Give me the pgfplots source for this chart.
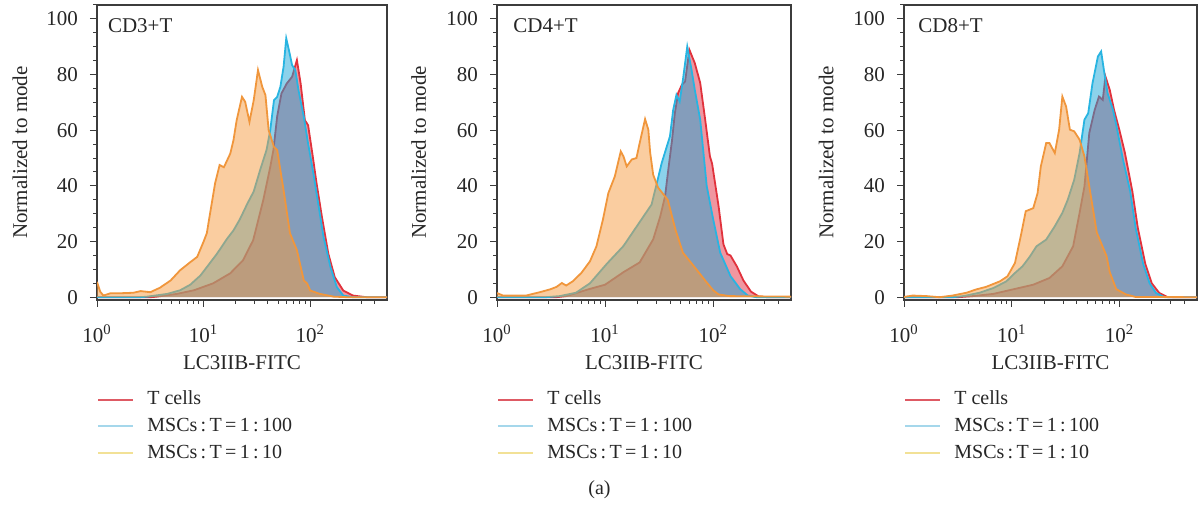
\documentclass[border=0pt]{standalone}
\usepackage{fontspec}
\setmainfont{Liberation Serif}
\usepackage{pgfplots}
\usepackage{pgfplotstable}
\pgfplotsset{compat=1.18}

\definecolor{rfill}{RGB}{225,45,65}
\definecolor{bfill}{RGB}{25,165,215}
\definecolor{ofill}{RGB}{245,155,65}
\definecolor{rline}{RGB}{225,50,60}
\definecolor{bline}{RGB}{40,180,225}
\definecolor{oline}{RGB}{240,150,60}
\definecolor{lgr}{RGB}{222,90,100}
\definecolor{lgb}{RGB}{165,215,235}
\definecolor{lgy}{RGB}{242,225,150}
\definecolor{axgray}{RGB}{60,60,60}

% ---------- Panel 1: CD3+T (x in log10 units) ----------
\pgfplotstableread{
lx y
0 0
0.5 0
0.56 0.2
0.75 1.2
0.91 2.5
1.09 5
1.25 8.6
1.37 13.3
1.465 20.5
1.56 35
1.625 46.8
1.655 53
1.69 65
1.73 73.2
1.78 76.8
1.83 79.2
1.875 85.2
1.91 76.8
1.95 63.6
1.98 61.8
2.02 51.6
2.06 40.8
2.11 28.8
2.17 15.6
2.23 7.2
2.31 2.4
2.4 0.6
2.53 0
2.72 0
}\rA
\pgfplotstableread{
lx y
0 0
0.4 0
0.47 0.2
0.66 1.2
0.78 2.5
0.875 4.5
0.97 7.8
1.03 10.8
1.125 15.6
1.22 21
1.28 24
1.34 28
1.41 33.6
1.47 38
1.53 45.7
1.59 52.9
1.625 60
1.66 70.8
1.69 72
1.72 75.6
1.75 82.8
1.775 93
1.80 88.8
1.83 83.4
1.86 81.6
1.89 74.4
1.94 64.8
1.98 55.2
2.03 44.4
2.08 32.4
2.125 21.6
2.19 10.8
2.25 3.6
2.31 0.6
2.4 0
2.72 0
}\bA
\pgfplotstableread{
lx y
0 5.5
0.03 2
0.06 0.6
0.125 1.4
0.2 1.4
0.34 1.6
0.41 2.2
0.5 1.8
0.59 3.4
0.69 6
0.78 9.7
0.875 12.6
0.94 14.5
1.0 20
1.03 23
1.06 30
1.108 41
1.15 47.5
1.19 46.7
1.25 51.6
1.28 56.4
1.31 63.6
1.36 72
1.39 70.2
1.43 63
1.47 70.8
1.51 81.6
1.55 75.6
1.58 72.6
1.61 60
1.66 54
1.69 52.9
1.75 38.5
1.81 23
1.875 16.9
1.94 6
1.97 5
2.0 2.4
2.09 1.2
2.22 0.2
2.35 0
2.72 0
}\oA

% ---------- Panel 2: CD4+T ----------
\pgfplotstableread{
lx y
0 0
0.55 0
0.64 0.4
0.86 3
1.0 4.5
1.17 9
1.32 12.5
1.445 20.8
1.51 29
1.555 36.3
1.585 45.9
1.62 56.6
1.645 66
1.675 73.3
1.71 76.3
1.74 77.5
1.78 88.9
1.83 84.1
1.88 77
1.926 63.8
1.97 50.6
1.99 48
2.05 32.7
2.095 19
2.13 15.5
2.16 15
2.22 11
2.28 6
2.35 2
2.42 0.3
2.5 0
2.72 0
}\rB
\pgfplotstableread{
lx y
0 0
0.45 0
0.58 0.4
0.73 1.6
0.86 5
1.016 12
1.17 18.4
1.32 27
1.43 33.3
1.48 41.2
1.525 48.4
1.60 57.8
1.63 67.3
1.66 72.7
1.69 70.3
1.72 78.1
1.76 90
1.80 81.7
1.83 74.5
1.88 63.8
1.94 40
2.0 28
2.065 16
2.16 7.6
2.25 2.9
2.32 0.6
2.4 0
2.72 0
}\bB
\pgfplotstableread{
lx y
0 1.5
0.055 0.6
0.27 0.6
0.395 1.8
0.49 2.8
0.55 3.7
0.6 5.1
0.64 4.2
0.70 5.7
0.78 8.7
0.86 12.9
0.92 18.3
0.98 27.9
1.03 37.4
1.09 43.4
1.145 52.4
1.17 50.6
1.20 47
1.247 49.5
1.29 50
1.32 55.4
1.37 64
1.40 60.2
1.417 52
1.445 44
1.49 39.4
1.58 35
1.65 24.4
1.72 16
1.82 11.2
1.94 5.3
2.0 2.5
2.05 1
2.15 0.4
2.72 0.2
}\oB

% ---------- Panel 3: CD8+T ----------
\pgfplotstableread{
lx y
0 0
0.5 0
0.64 0.4
0.83 1.2
1.01 2.8
1.2 4.5
1.35 6.9
1.47 11.1
1.57 18.3
1.63 30.3
1.675 39.8
1.72 59
1.77 67.3
1.81 72.1
1.845 70.9
1.87 79.3
1.91 74.5
1.95 67.3
2.0 60
2.05 52
2.12 38
2.17 25
2.24 12
2.3 5
2.37 1.5
2.45 0
2.72 0
}\rC
\pgfplotstableread{
lx y
0 0
0.45 0
0.55 0.4
0.70 1.6
0.83 3.3
0.95 5.7
1.03 8.7
1.10 11.1
1.17 14.7
1.23 18.3
1.32 20.7
1.40 25.5
1.47 30.3
1.52 35
1.58 42.2
1.63 51.8
1.675 63.8
1.71 66.1
1.75 76.9
1.80 86.5
1.83 88.3
1.86 80.5
1.89 73.3
1.94 67.3
1.97 62
2.03 50
2.1 38
2.15 25
2.22 12
2.28 5
2.34 1.5
2.42 0
2.72 0
}\bC
\pgfplotstableread{
lx y
0 0.1
0.08 0.6
0.21 0.4
0.33 0
0.45 0.6
0.58 1.6
0.67 2.8
0.76 3.7
0.89 5.7
0.96 7.5
1.03 12.3
1.09 23.1
1.13 30.9
1.2 32
1.24 37.4
1.27 47
1.32 55.4
1.35 55.4
1.40 51.8
1.44 60.2
1.47 72.1
1.505 68.5
1.54 60.2
1.58 59.6
1.63 56.6
1.675 50.6
1.72 39.8
1.79 23.2
1.88 14.8
1.91 9
1.97 2.9
2.06 1
2.15 0.1
2.72 0
}\oC

\tikzset{cdlab/.style={anchor=west, inner sep=0pt, font=\fontsize{10.5}{12}\selectfont, text=black!85}}

\pgfplotsset{
  panel/.style={
    scale only axis, height=147.5pt,
    xmin=0, xmax=2.72, ymin=-1, ymax=105,
    axis line style={axgray, line width=0.6pt},
    tick style={axgray, line width=0.5pt},
    tick align=outside, tick pos=left,
    xtick={0,1,2},
    xticklabels={10\textsuperscript{0},10\textsuperscript{1},10\textsuperscript{2}},
    minor xtick={0.301,0.477,0.602,0.699,0.778,0.845,0.903,0.954,
                 1.301,1.477,1.602,1.699,1.778,1.845,1.903,1.954,
                 2.301,2.477,2.602},
    ytick={0,20,40,60,80,100},
    minor ytick={5,10,15,25,30,35,45,50,55,65,70,75,85,90,95,105},
    major tick length=3.5pt, minor tick length=2pt,
    ticklabel style={font=\fontsize{10.5}{12}\selectfont, text=black!85},
    yticklabel style={/pgf/number format/assume math mode=true, xshift=-2.5pt},
    xticklabel style={yshift=-5.5pt},
    xlabel={LC3IIB-FITC}, ylabel={Normalized to mode},
    label style={font=\fontsize{10.5}{12}\selectfont, text=black!85},
    xlabel style={at={(axis description cs:0.5,0)}, anchor=center, yshift=-31.5pt},
    ylabel style={at={(axis description cs:-0.266,0.5)}, anchor=center},
    legend style={draw=none, fill=none, at={(axis description cs:0,-0.306)},
      anchor=north west, inner sep=0pt, font=\fontsize{10}{12}\selectfont,
      nodes={inner sep=0pt, text height=7pt, text depth=2pt, text=black!85},
      row sep=4.4pt, column sep=6.5pt},
    legend cell align=left,
    legend image code/.code={\draw[#1, line width=1pt] (0pt,0pt) -- (17.5pt,0pt);},
  },
  rf/.style={draw=none, fill=rfill, fill opacity=0.5, forget plot},
  bf/.style={draw=none, fill=bfill, fill opacity=0.5, forget plot},
  of/.style={draw=none, fill=ofill, fill opacity=0.5, forget plot},
  rl/.style={rline, line width=0.9pt, forget plot},
  bl/.style={bline, line width=0.9pt, forget plot},
  ol/.style={oline, line width=0.9pt, forget plot},
}

\newcommand{\legendlines}{%
  \addlegendimage{lgr}\addlegendentry{T cells}
  \addlegendimage{lgb}\addlegendentry{MSCs\,:\,T\,=\,1\,:\,100}
  \addlegendimage{lgy}\addlegendentry{MSCs\,:\,T\,=\,1\,:\,10}
}

\begin{document}
\begin{tikzpicture}
\useasboundingbox (0,0) rectangle (599.5pt,-253pt);

\begin{axis}[panel, width=145pt, at={(48.5pt,-150pt)}, anchor=south west]
  \addplot[rf] table[x=lx,y=y] {\rA} \closedcycle;
  \addplot[rl] table[x=lx,y=y] {\rA};
  \addplot[bf] table[x=lx,y=y] {\bA} \closedcycle;
  \addplot[bl] table[x=lx,y=y] {\bA};
  \addplot[of] table[x=lx,y=y] {\oA} \closedcycle;
  \addplot[ol] table[x=lx,y=y] {\oA};
  \legendlines
  \node[cdlab] at (axis cs:0.1,97.5) {CD3+T};
\end{axis}

\begin{axis}[panel, width=147pt, at={(248.5pt,-150pt)}, anchor=south west]
  \addplot[rf] table[x=lx,y=y] {\rB} \closedcycle;
  \addplot[rl] table[x=lx,y=y] {\rB};
  \addplot[bf] table[x=lx,y=y] {\bB} \closedcycle;
  \addplot[bl] table[x=lx,y=y] {\bB};
  \addplot[of] table[x=lx,y=y] {\oB} \closedcycle;
  \addplot[ol] table[x=lx,y=y] {\oB};
  \legendlines
  \node[cdlab] at (axis cs:0.148,97.5) {CD4+T};
\end{axis}

\begin{axis}[panel, width=146.5pt, at={(452pt,-150pt)}, anchor=south west]
  \addplot[rf] table[x=lx,y=y] {\rC} \closedcycle;
  \addplot[rl] table[x=lx,y=y] {\rC};
  \addplot[bf] table[x=lx,y=y] {\bC} \closedcycle;
  \addplot[bl] table[x=lx,y=y] {\bC};
  \addplot[of] table[x=lx,y=y] {\oC} \closedcycle;
  \addplot[ol] table[x=lx,y=y] {\oC};
  \legendlines
  \node[cdlab] at (axis cs:0.13,97.5) {CD8+T};
\end{axis}

\node[font=\fontsize{10}{12}\selectfont, text=black!85] at (299.75pt,-245pt) {(a)};
\end{tikzpicture}
\end{document}
